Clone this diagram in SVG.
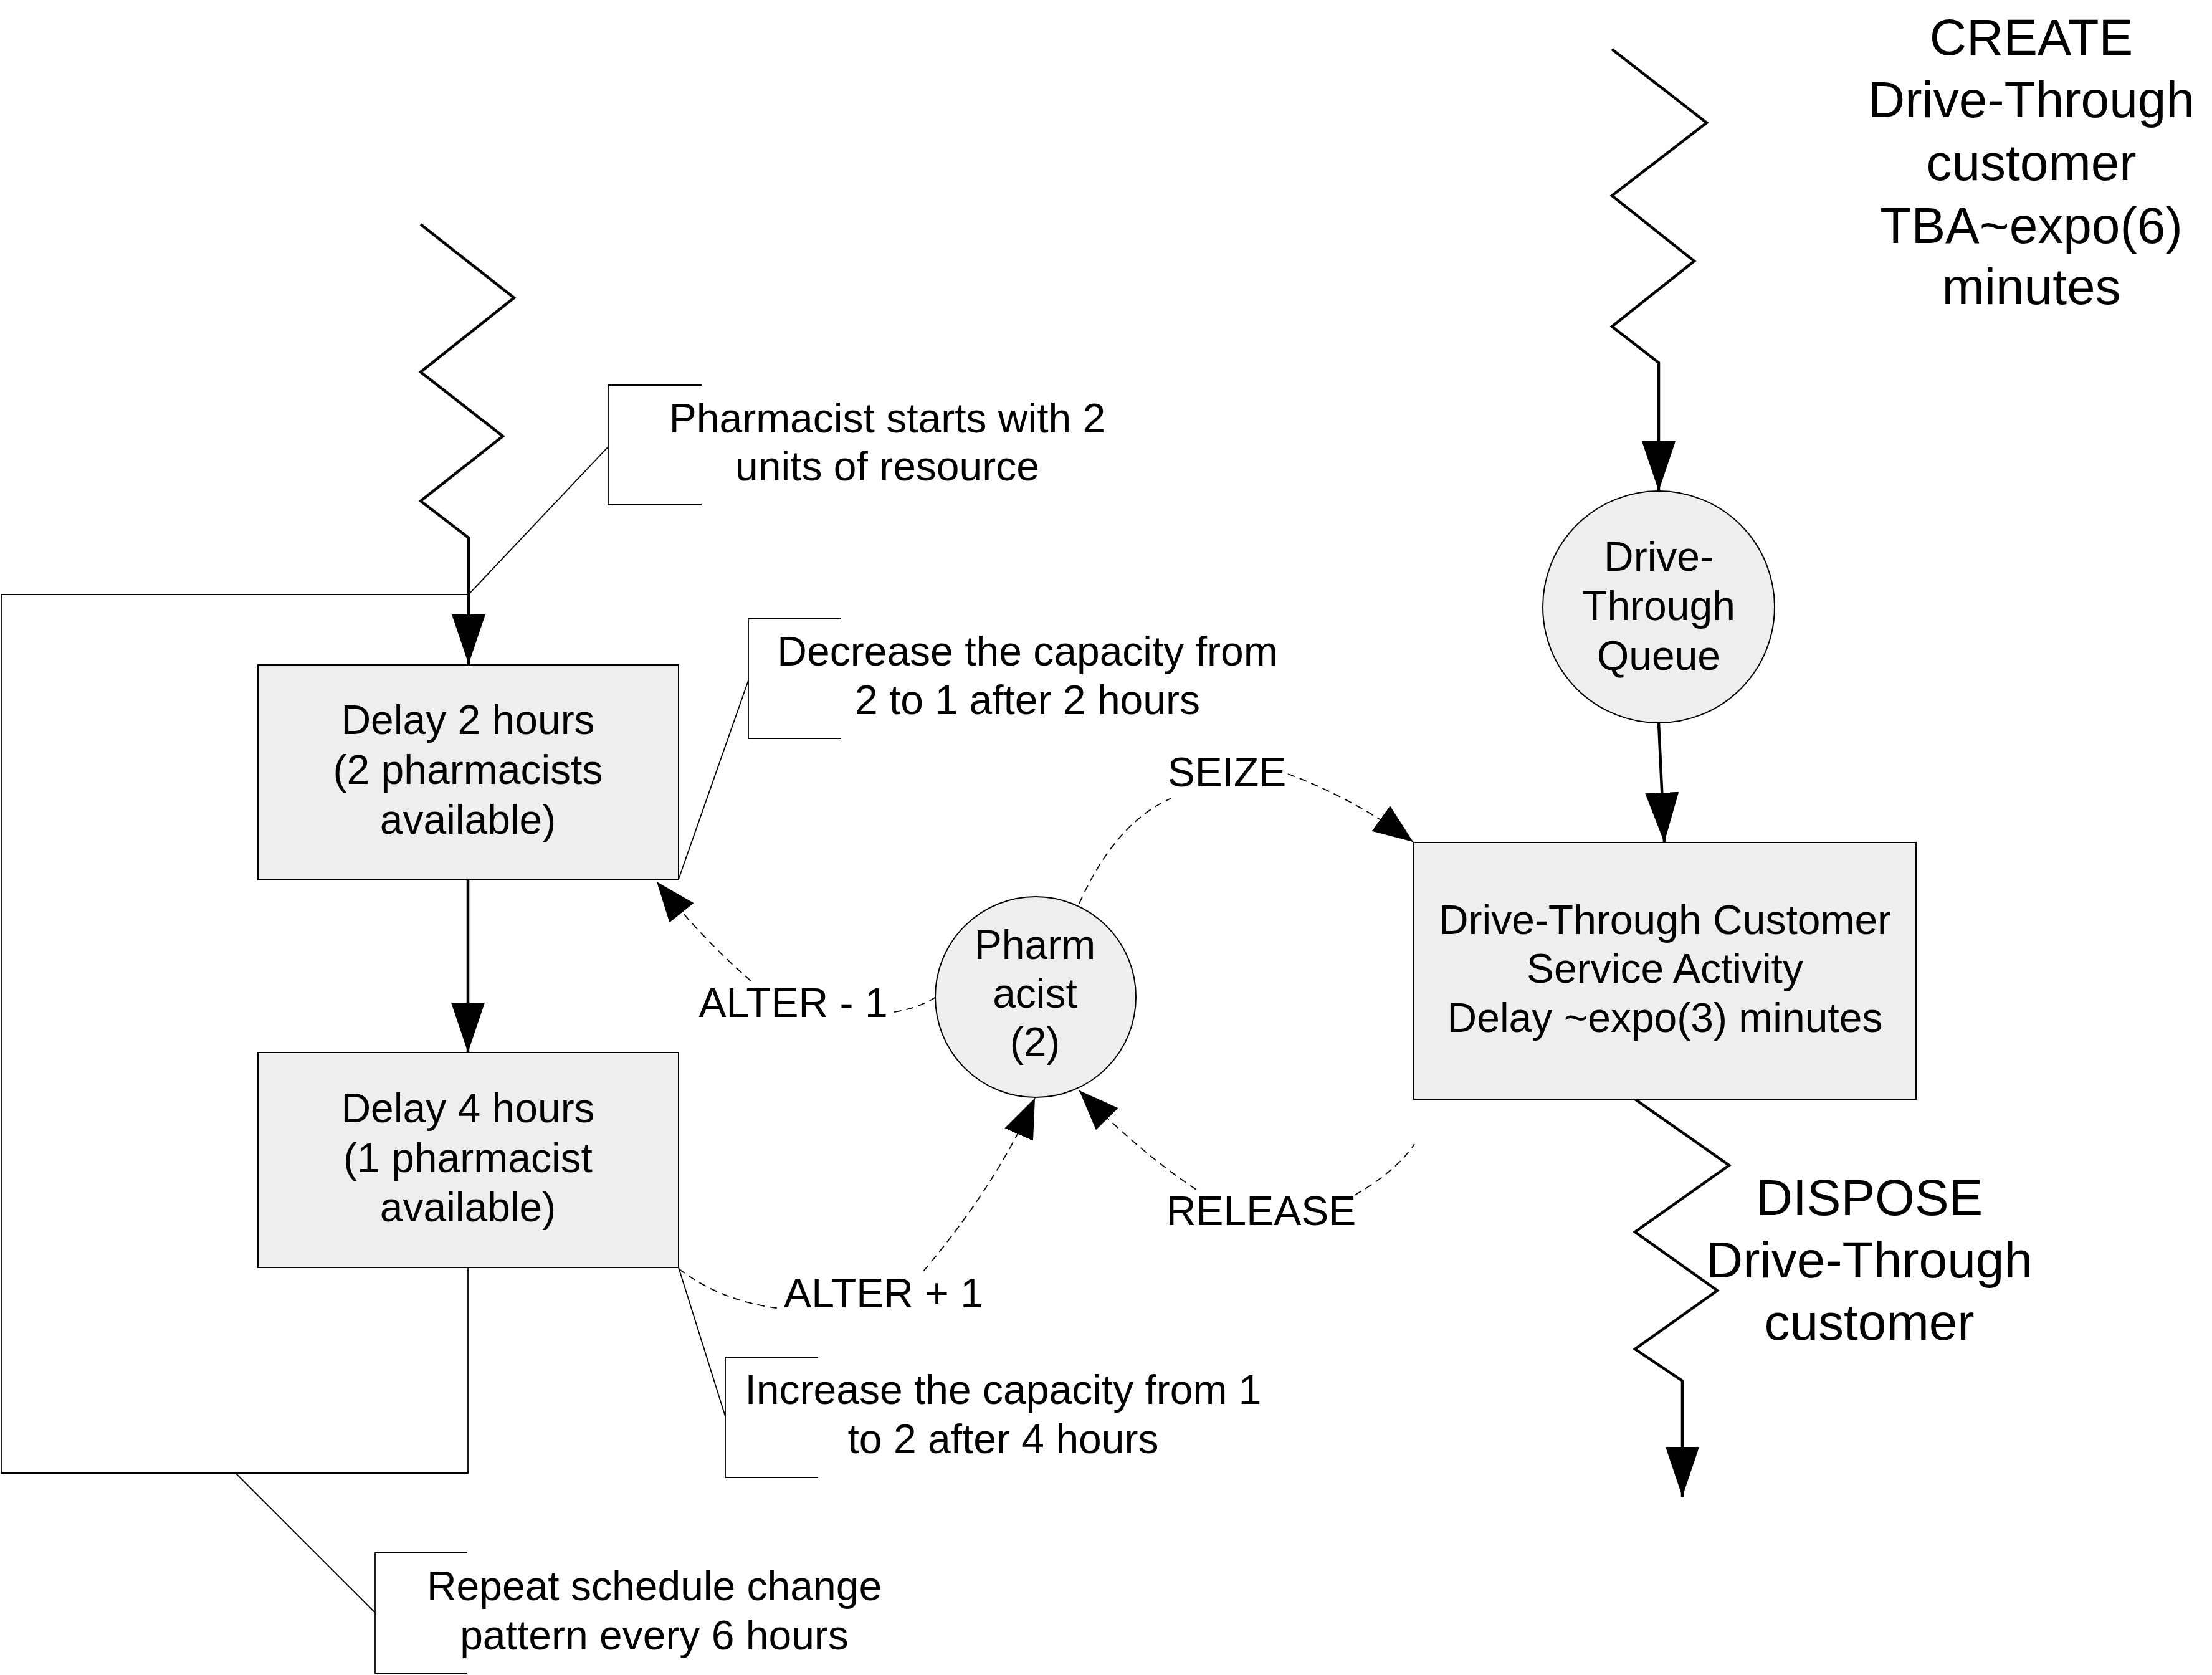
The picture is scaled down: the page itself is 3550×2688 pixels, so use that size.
<svg xmlns="http://www.w3.org/2000/svg" width="3550" height="2688" viewBox="0 0 3550 2688">
<defs>
<style>
text{font-family:"Liberation Sans",Arial,sans-serif;font-size:66px;fill:#000;text-anchor:middle}
.big{font-size:82px}
.box{fill:#EEEEEE;stroke:#000;stroke-width:2}
.thick{fill:none;stroke:#000;stroke-width:4.5}
.thin{fill:none;stroke:#000;stroke-width:1.8}
.dash{fill:none;stroke:#000;stroke-width:1.8;stroke-dasharray:12 8}
</style>
<marker id="ah" markerUnits="userSpaceOnUse" markerWidth="82" markerHeight="56" refX="80" refY="27" orient="auto" viewBox="0 0 82 56">
<path d="M0,0 L80,27 L0,54 Z" fill="#000"/>
</marker>
<marker id="ahd" markerUnits="userSpaceOnUse" markerWidth="66" markerHeight="52" refX="64" refY="25" orient="auto" viewBox="0 0 66 52">
<path d="M0,0 L64,25 L0,50 Z" fill="#000"/>
</marker>
</defs>
<rect width="3550" height="2688" fill="#fff"/>

<g id="connectors">
<path class="thick" d="M675,360 L825,478 L675,597 L807,700 L675,804 L752,863 L752,1066" marker-end="url(#ah)"/>
<path class="thick" d="M751,1412 L751,1689" marker-end="url(#ah)"/>
<path class="thin" d="M751,954 H2 V2364 H751 V2034"/>
<path class="thick" d="M2587,79 L2739,197 L2587,314 L2719,419 L2587,524 L2662,582 L2662,788" marker-end="url(#ah)"/>
<path class="thick" d="M2662,1160 L2671,1352" marker-end="url(#ah)"/>
<path class="thick" d="M2624,1764 L2775,1870 L2624,1977 L2756,2071 L2624,2165 L2700,2216 L2700,2402" marker-end="url(#ah)"/>
<path class="dash" d="M1732,1450 Q1790,1320 1880,1281"/>
<path class="dash" d="M2067,1242 Q2170,1280 2268,1351" marker-end="url(#ahd)"/>
<path class="dash" d="M1502,1600 Q1470,1620 1428,1625"/>
<path class="dash" d="M1205,1574 Q1130,1510 1054,1415" marker-end="url(#ahd)"/>
<path class="dash" d="M1089,2036 Q1160,2090 1255,2100"/>
<path class="dash" d="M1482,2040 Q1600,1900 1661,1762" marker-end="url(#ahd)"/>
<path class="dash" d="M1920,1909 Q1830,1850 1732,1750" marker-end="url(#ahd)"/>
<path class="dash" d="M2174,1918 Q2240,1880 2270,1836"/>
<path class="thin" d="M976,717 L752,954"/>
<path class="thin" d="M1201,1092 L1089,1411"/>
<path class="thin" d="M1089,2034 L1164,2273"/>
<path class="thin" d="M378,2364 L602,2588"/>
</g>

<g id="note-start">
<path class="thin" d="M1126,618 H976 V810 H1126"/>
<text x="1424" y="694">Pharmacist starts with 2</text>
<text x="1424" y="771">units of resource</text>
</g>

<g id="note-decrease">
<path class="thin" d="M1350,993 H1201 V1185 H1350"/>
<text x="1649" y="1068">Decrease the capacity from</text>
<text x="1649" y="1146">2 to 1 after 2 hours</text>
</g>

<g id="note-increase">
<path class="thin" d="M1313,2178 H1164 V2371 H1313"/>
<text x="1610" y="2253">Increase the capacity from 1</text>
<text x="1610" y="2332">to 2 after 4 hours</text>
</g>

<g id="note-repeat">
<path class="thin" d="M750,2492 H602 V2685 H750"/>
<text x="1050" y="2568">Repeat schedule change</text>
<text x="1050" y="2647">pattern every 6 hours</text>
</g>

<g id="delay2">
<rect class="box" x="414" y="1067" width="675" height="345"/>
<text x="751" y="1178">Delay 2 hours</text>
<text x="751" y="1258">(2 pharmacists</text>
<text x="751" y="1338">available)</text>
</g>

<g id="delay4">
<rect class="box" x="414" y="1689" width="675" height="345"/>
<text x="751" y="1801">Delay 4 hours</text>
<text x="751" y="1881">(1 pharmacist</text>
<text x="751" y="1960">available)</text>
</g>

<g id="pharmacist">
<circle class="box" cx="1662" cy="1600" r="161"/>
<text x="1661" y="1539">Pharm</text>
<text x="1661" y="1617">acist</text>
<text x="1661" y="1695">(2)</text>
</g>

<g id="queue">
<circle class="box" cx="2662" cy="974" r="186"/>
<text x="2662" y="916">Drive-</text>
<text x="2662" y="995">Through</text>
<text x="2662" y="1075">Queue</text>
</g>

<g id="service">
<rect class="box" x="2269" y="1352" width="806" height="412"/>
<text x="2672" y="1499">Drive-Through Customer</text>
<text x="2672" y="1577">Service Activity</text>
<text x="2672" y="1656">Delay ~expo(3) minutes</text>
</g>

<g id="create">
<text class="big" x="3260" y="88">CREATE</text>
<text class="big" x="3260" y="188">Drive-Through</text>
<text class="big" x="3260" y="289">customer</text>
<text class="big" x="3260" y="390">TBA~expo(6)</text>
<text class="big" x="3260" y="488">minutes</text>
</g>

<g id="dispose">
<text class="big" x="3000" y="1950">DISPOSE</text>
<text class="big" x="3000" y="2050">Drive-Through</text>
<text class="big" x="3000" y="2150">customer</text>
</g>

<g id="labels">
<text x="1969" y="1262">SEIZE</text>
<text x="1273" y="1632">ALTER - 1</text>
<text x="1418" y="2098">ALTER + 1</text>
<text x="2024" y="1966">RELEASE</text>
</g>
</svg>
